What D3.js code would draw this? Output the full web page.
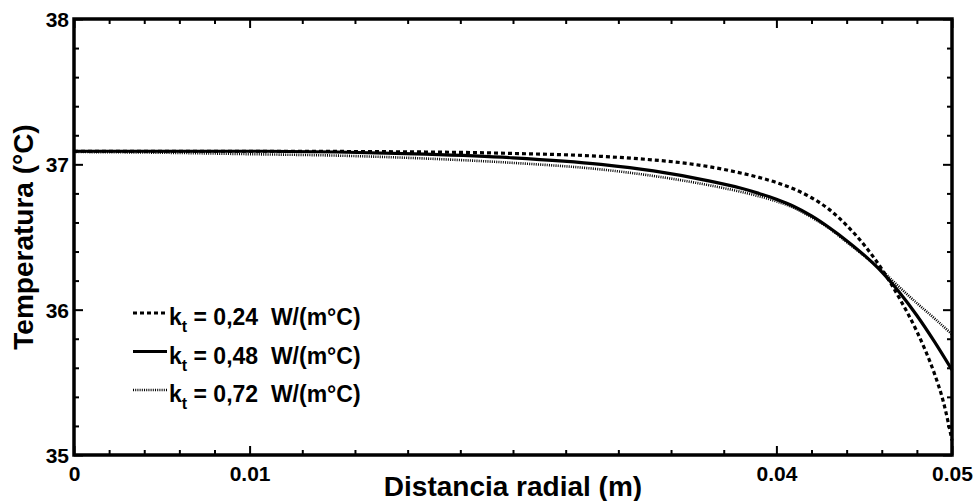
<!DOCTYPE html>
<html>
<head>
<meta charset="utf-8">
<script src="https://cdn.jsdelivr.net/npm/d3@7"></script>
<style>
    body { margin: 0; background: #fff; }
    svg { display: block; font-family: "Liberation Sans", Arial, sans-serif; font-weight: bold; }
</style>
</head>
<body>
<div id="chart"></div>
<script>
// radial distance (m) and temperature (°C)
const r_024 = [0, 0.01, 0.02, 0.025, 0.03, 0.033, 0.035, 0.037, 0.039, 0.04, 0.041, 0.042, 0.043, 0.044, 0.045, 0.046, 0.047, 0.048, 0.0485, 0.049, 0.0495, 0.05];
const t_024 = [37.09, 37.09, 37.085, 37.075, 37.055, 37.03, 37.005, 36.965, 36.91, 36.875, 36.83, 36.77, 36.69, 36.58, 36.445, 36.28, 36.08, 35.85, 35.715, 35.56, 35.37, 35.10];

const r_048 = [0, 0.01, 0.015, 0.02, 0.025, 0.03, 0.033, 0.036, 0.038, 0.039, 0.04, 0.041, 0.042, 0.043, 0.044, 0.045, 0.046, 0.047, 0.048, 0.049, 0.05];
const t_048 = [37.09, 37.09, 37.085, 37.07, 37.045, 37.0, 36.955, 36.89, 36.835, 36.80, 36.76, 36.71, 36.645, 36.565, 36.475, 36.375, 36.26, 36.12, 35.96, 35.78, 35.585];

const r_072 = [0, 0.005, 0.01, 0.015, 0.02, 0.025, 0.03, 0.033, 0.036, 0.038, 0.04, 0.041, 0.042, 0.043, 0.044, 0.045, 0.046, 0.047, 0.048, 0.049, 0.05];
const t_072 = [37.085, 37.08, 37.07, 37.06, 37.04, 37.01, 36.965, 36.92, 36.86, 36.81, 36.745, 36.70, 36.635, 36.56, 36.465, 36.37, 36.27, 36.155, 36.045, 35.94, 35.83];

const legendLabels = ["0,24", "0,48", "0,72"];

const xMajor = [0, 0.01, 0.04, 0.05];
const xMinor = [0.002, 0.004, 0.006, 0.008, 0.013, 0.016, 0.019, 0.022, 0.025, 0.028, 0.031, 0.034, 0.037, 0.042, 0.044, 0.046, 0.048];
const yMajor = [35, 36, 37, 38];
const yMinor = d3.range(35.2, 38, 0.2).filter(v => Math.abs(v - Math.round(v)) > 0.01);

const width = 979, height = 501;
const margin = {left: 74, right: 27, top: 19, bottom: 46};

const svg = d3.select('#chart').append('svg')
    .attr('width', width)
    .attr('height', height);

const x = d3.scaleLinear().domain([0, 0.05]).range([margin.left, width - margin.right]);
const y = d3.scaleLinear().domain([35, 38]).range([height - margin.bottom, margin.top]);

const x0 = x.range()[0], x1 = x.range()[1], y0 = y.range()[0], y1 = y.range()[1];

/* ticks, pointing inward on all four sides */

let tickAxis = (axis, tx, ty, values, size, labels) => {
    const g = svg.append('g')
        .attr('transform', `translate(${tx},${ty})`)
        .call(axis.tickValues(values).tickSize(size).tickSizeOuter(0)
            .tickFormat(labels ? (d => String(d)) : ''));
    g.select('.domain').remove();
    g.selectAll('.tick line').attr('stroke', '#000').attr('stroke-width', 2);
    g.selectAll('.tick text')
        .attr('fill', '#000')
        .style('font-size', '21px')
        .style('font-weight', 'bold')
        .style('font-family', '"Liberation Sans", Arial, sans-serif');
    return g;
};

const xb = tickAxis(d3.axisBottom(x), 0, y0, xMajor, -9, true);
xb.selectAll('.tick text').attr('y', 26).attr('dy', 0);
tickAxis(d3.axisBottom(x), 0, y0, xMinor, -5, false);
tickAxis(d3.axisTop(x), 0, y1, xMajor, -9, false);
tickAxis(d3.axisTop(x), 0, y1, xMinor, -5, false);

const yl = tickAxis(d3.axisLeft(y), x0, 0, yMajor, -9, true);
yl.selectAll('.tick text').attr('x', -5).attr('dy', '0.36em');
tickAxis(d3.axisLeft(y), x0, 0, yMinor, -5, false);
tickAxis(d3.axisRight(y), x1, 0, yMajor, -9, false);
tickAxis(d3.axisRight(y), x1, 0, yMinor, -5, false);

/* curves */

const series = [
    {r: r_024, t: t_024, dash: '4,3', w: 3.2},
    {r: r_048, t: t_048, dash: null, w: 3.2},
    {r: r_072, t: t_072, dash: '1,1.2', w: 2.6}
];

const line = d3.line()
    .x(d => x(d[0]))
    .y(d => y(d[1]))
    .curve(d3.curveMonotoneX);

svg.append('g')
    .selectAll('path')
    .data(series)
    .join('path')
    .attr('d', s => line(s.r.map((v, i) => [v, s.t[i]])))
    .attr('fill', 'none')
    .attr('stroke', '#000')
    .attr('stroke-width', s => s.w)
    .attr('stroke-dasharray', s => s.dash);

/* frame */

svg.append('rect')
    .attr('x', x0)
    .attr('y', y1)
    .attr('width', x1 - x0)
    .attr('height', y0 - y1)
    .attr('fill', 'none')
    .attr('stroke', '#000')
    .attr('stroke-width', 3.5);

/* legend */

const legend = svg.append('g')
    .selectAll('g')
    .data(series)
    .join('g')
    .attr('transform', (d, i) => `translate(133,${313 + i * 38.5})`);

legend.append('line')
    .attr('x1', 0)
    .attr('x2', 34)
    .attr('stroke', '#000')
    .attr('stroke-width', s => s.w)
    .attr('stroke-dasharray', s => s.dash);

const txt = legend.append('text')
    .attr('x', 36)
    .attr('y', 12)
    .style('font-size', '23px')
    .style('white-space', 'pre');
txt.append('tspan').text('k');
txt.append('tspan').attr('dy', 7).style('font-size', '16px').text('t');
txt.append('tspan').attr('dy', -7).text((d, i) => ` = ${legendLabels[i]}  W/(m°C)`);

/* axis titles */

svg.append('text')
    .attr('x', (x0 + x1) / 2)
    .attr('y', 496)
    .attr('text-anchor', 'middle')
    .style('font-size', '28px')
    .text('Distancia radial (m)');

svg.append('text')
    .attr('transform', `translate(33,${(y0 + y1) / 2}) rotate(-90)`)
    .attr('text-anchor', 'middle')
    .style('font-size', '28px')
    .text('Temperatura (°C)');
</script>
</body>
</html>
